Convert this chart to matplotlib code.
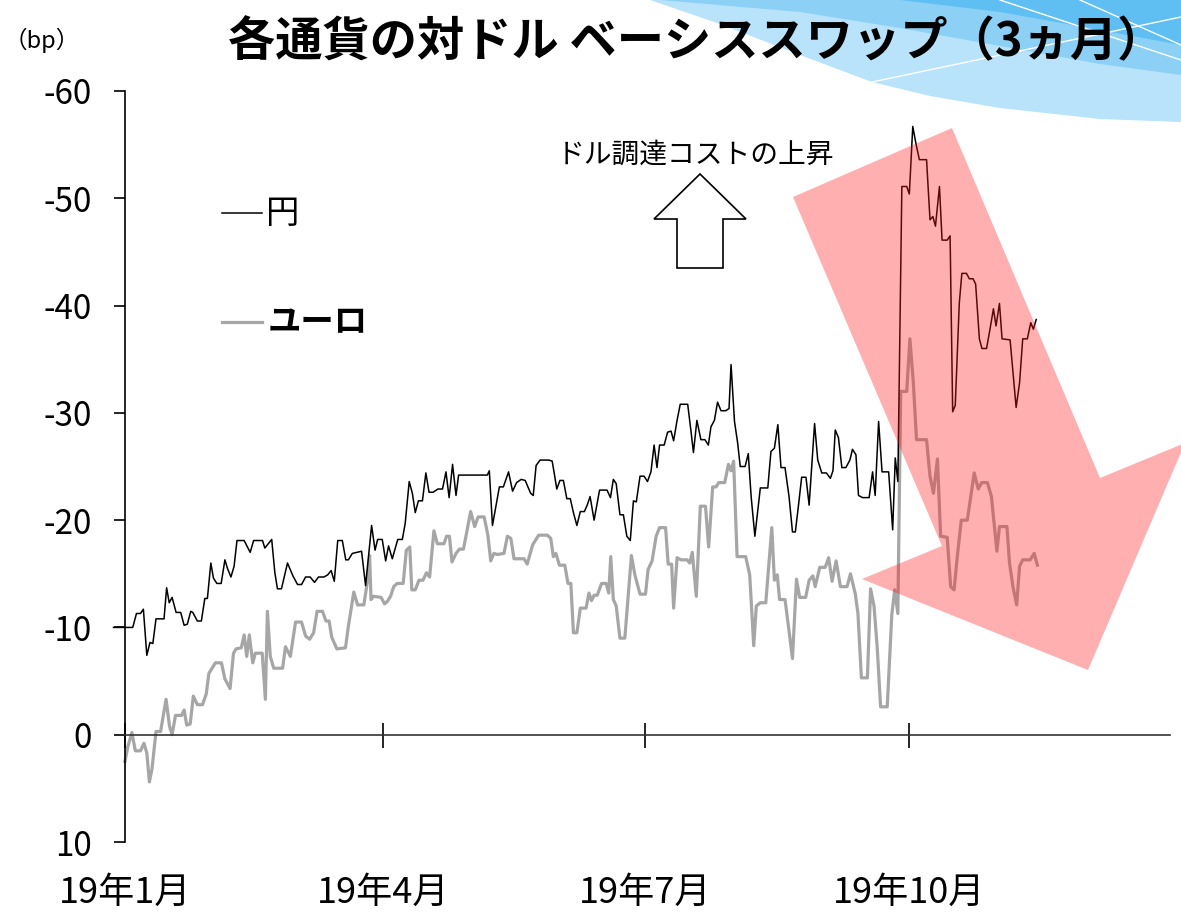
import matplotlib
matplotlib.use('Agg')
import matplotlib.pyplot as plt
from matplotlib.patches import Polygon
from matplotlib.lines import Line2D
from matplotlib.transforms import blended_transform_factory

plt.rcParams['font.family'] = ['Noto Sans CJK JP', 'DejaVu Sans']
plt.rcParams['axes.unicode_minus'] = False

# ---------------- data (x = days from 2019-01-01, y = bp) ----------------
yen_day = [-4, 2.7, 4, 5.4, 6.4, 7.6, 8.7, 9.7, 10.8, 13.6,
           14.5, 15.4, 16.4, 17.8, 19.4, 20.6, 21.7, 22.9, 23.6, 25.2,
           26.6, 27.8, 28.7, 29.9, 30.8, 32.0, 33.5, 34.8, 35.7, 36.9,
           38.0, 39.0, 41.5, 43.6, 44.8, 47.9, 48.7, 51.1, 52.2, 53.1,
           54.5, 56.6, 58.5, 60.1, 61.5, 62.9, 64.5, 66.0, 67.4, 69.3,
           70.6, 71.8, 72.9, 74.1, 75.7, 76.9, 77.8, 79.2, 80.8, 82.4,
           83.8, 84.8, 85.9, 87.1, 88.0, 89.6, 90.8, 91.8, 93.1, 95.0,
           96.6, 97.6, 99.0, 100.1, 101.1, 102.2, 103.6, 104.8, 105.9, 107.3,
           109.0, 110.6, 111.8, 112.9, 114.1, 115.3, 116.2, 126.2, 126.9, 128.0,
           129.2, 130.4, 131.8, 133.6, 135.0, 136.4, 138.0, 139.4, 141.3, 142.2,
           143.2, 144.6, 147.6, 148.8, 149.5, 150.4, 151.5, 152.7, 153.9, 155.1,
           156.2, 157.4, 158.6, 160.0, 161.0, 162.0, 163.4, 165.3, 167.9, 169.1,
           170.1, 171.1, 172.4, 173.6, 174.8, 176.0, 177.1, 178.1, 179.4, 180.8,
           182.0, 183.2, 184.3, 185.3, 186.2, 187.8, 189.0, 190.2, 191.1, 192.3,
           193.4, 196.0, 197.1, 198.0, 199.2, 200.6, 202.0, 203.2, 204.1, 205.3,
           206.4, 207.6, 209.2, 210.4, 211.1, 212.3, 213.4, 214.3, 216.0, 217.1,
           218.1, 219.4, 221.3, 223.9, 225.0, 226.2, 227.4, 228.5, 229.9, 231.3,
           232.5, 233.5, 234.6, 235.7, 237.2, 238.3, 240.2, 241.3, 242.7, 244.3,
           245.7, 246.6, 247.4, 248.5, 249.7, 251.1, 252.5, 253.4, 254.6, 255.5,
           256.9, 259.2, 260.4, 261.3, 262.5, 263.7, 266.0, 267.4, 268.3, 269.2,
           270.6, 272.3, 273.2, 274.4, 275.5, 276.7, 279.2, 280.4, 281.4, 282.3,
           283.7, 284.6, 286.4, 287.4, 288.3, 289.2, 290.6, 291.5, 293.1, 294.1,
           295.4, 296.3, 297.6, 298.5, 300.1, 301.3, 302.5, 303.4, 304.6, 305.5,
           308.3, 310.4, 311.6, 312.7, 314.3, 315.5, 316.4, 317.4]
yen_bp = [-10.0, -10.0, -11.3, -11.3, -11.7, -7.4, -8.6, -8.5, -10.8, -10.8,
          -13.7, -12.3, -12.8, -11.4, -11.4, -10.2, -10.3, -11.5, -11.4, -10.6,
          -10.6, -12.7, -12.7, -16.0, -14.6, -14.1, -14.1, -16.3, -15.5, -14.7,
          -15.7, -18.1, -18.1, -17.0, -18.1, -18.1, -17.4, -18.2, -15.1, -13.6,
          -13.6, -16.0, -14.8, -14.0, -14.0, -14.7, -14.7, -14.2, -14.7, -14.7,
          -14.9, -15.3, -14.3, -18.1, -18.1, -16.3, -16.3, -16.9, -17.0, -17.1,
          -13.9, -16.6, -19.5, -17.2, -18.2, -18.2, -16.2, -17.6, -16.4, -18.2,
          -18.2, -19.7, -23.6, -22.5, -20.7, -21.8, -21.8, -24.4, -22.6, -22.6,
          -22.9, -22.9, -24.5, -22.1, -25.2, -22.3, -24.2, -24.2, -24.6, -19.5,
          -21.3, -23.1, -23.1, -24.5, -22.7, -23.5, -23.8, -23.7, -22.5, -22.3,
          -25.1, -25.6, -25.6, -25.5, -24.4, -22.9, -23.7, -23.7, -22.0, -22.0,
          -20.7, -19.5, -20.8, -20.8, -21.4, -22.2, -20.0, -22.8, -22.8, -22.1,
          -23.8, -23.4, -20.5, -20.5, -18.5, -18.1, -21.8, -21.7, -24.1, -24.1,
          -23.6, -24.5, -27.0, -24.9, -27.0, -27.0, -28.2, -28.3, -27.4, -29.3,
          -30.8, -30.8, -28.4, -26.3, -29.3, -27.5, -27.5, -27.0, -28.7, -29.3,
          -31.0, -30.2, -30.2, -30.4, -34.5, -29.2, -27.2, -25.0, -25.0, -26.2,
          -22.2, -18.5, -23.0, -23.0, -26.4, -26.7, -28.9, -24.9, -24.9, -22.2,
          -18.9, -18.9, -21.4, -24.0, -24.0, -21.4, -29.0, -25.6, -24.4, -24.4,
          -23.9, -24.6, -28.4, -27.7, -24.9, -24.9, -25.6, -26.6, -26.1, -22.3,
          -22.1, -22.1, -24.5, -22.3, -29.2, -24.5, -24.5, -19.1, -25.8, -23.6,
          -51.1, -51.1, -50.4, -56.7, -55.1, -53.6, -53.6, -48.0, -48.3, -47.4,
          -51.1, -46.1, -46.1, -46.5, -30.1, -30.7, -40.2, -43.0, -43.0, -42.5,
          -42.5, -42.0, -36.9, -36.0, -36.0, -37.8, -39.7, -38.1, -40.2, -36.9,
          -36.8, -30.5, -32.8, -36.9, -36.9, -38.4, -37.8, -38.7]

eur_day = [0, 1, 2.4, 3.6, 5.4, 6.6, 7.6, 8.5, 9.4, 10.8,
           12.4, 14.3, 15.5, 16.4, 17.6, 19.7, 20.6, 21.5, 22.7, 23.8,
           25.2, 27.0, 28.3, 29.2, 30.1, 31.5, 33.6, 34.8, 36.6, 37.8,
           38.7, 40.5, 41.5, 42.4, 43.3, 44.5, 45.4, 47.8, 48.9, 49.6,
           50.6, 51.8, 54.9, 55.9, 57.6, 59.4, 61.5, 62.9, 64.3, 65.7,
           66.9, 68.8, 70.0, 71.1, 72.0, 73.8, 76.8, 77.8, 79.7, 81.0,
           83.2, 84.5, 85.2, 85.7, 86.6, 89.2, 90.4, 91.3, 92.5, 93.6,
           94.8, 96.9, 98.0, 99.2, 99.9, 101.1, 102.4, 103.8, 105.0, 106.1,
           107.6, 108.8, 111.1, 112.0, 113.0, 113.9, 115.3, 116.5, 117.9, 120.4,
           121.8, 123.0, 125.1, 126.4, 127.4, 128.5, 129.7, 132.0, 133.2, 134.4,
           135.5, 139.0, 140.1, 142.0, 144.1, 147.1, 148.3, 149.2, 150.1, 151.3,
           153.2, 154.3, 155.3, 156.2, 157.4, 158.6, 160.6, 161.6, 162.5, 163.4,
           164.5, 166.0, 167.6, 168.5, 169.2, 170.1, 171.1, 172.4, 174.1, 176.4,
           177.6, 179.4, 181.3, 182.2, 183.6, 185.0, 186.2, 188.3, 189.2, 190.4,
           191.1, 192.3, 193.7, 195.8, 196.7, 197.6, 199.0, 200.4, 202.2, 203.3,
           204.7, 205.9, 206.8, 208.9, 210.2, 211.1, 212.0, 213.2, 216.2, 217.6,
           219.0, 219.9, 221.3, 223.2, 224.3, 225.3, 226.2, 227.2, 228.0, 229.9,
           231.1, 232.5, 233.9, 235.0, 237.1, 238.3, 239.6, 240.4, 242.0, 243.9,
           245.1, 246.3, 247.7, 249.2, 251.5, 252.7, 254.4, 255.3, 256.5, 258.6,
           259.7, 260.9, 262.0, 263.2, 265.5, 267.1, 268.1, 269.2, 270.2, 272.3,
           273.4, 274.6, 275.7, 279.2, 280.4, 281.6, 283.0, 284.1, 286.4, 287.6,
           288.8, 289.9, 291.3, 293.4, 295.8, 297.2, 298.4, 300.4, 301.8, 303.7,
           304.6, 307.2, 308.1, 309.3, 310.6, 311.6, 312.7, 315.3, 316.7, 317.8]
eur_bp = [2.5, 1.1, -0.2, 1.5, 1.5, 0.8, 1.7, 4.4, 3.2, -0.3,
          -0.3, -3.3, -0.8, 0.0, -1.8, -1.8, -2.3, -0.9, -1.0, -3.6,
          -2.8, -2.8, -3.8, -5.7, -6.1, -6.7, -6.7, -5.2, -4.3, -7.6,
          -8.0, -8.1, -9.3, -7.3, -9.3, -6.7, -7.6, -7.6, -3.3, -11.5,
          -7.3, -6.2, -6.2, -8.2, -7.3, -10.5, -10.5, -9.2, -8.9, -9.5,
          -11.5, -11.5, -10.6, -10.6, -9.1, -8.0, -8.1, -10.1, -13.3, -12.1,
          -12.1, -14.4, -16.7, -12.6, -12.9, -12.8, -12.2, -12.4, -12.9, -13.8,
          -14.1, -14.1, -17.2, -17.5, -13.5, -13.5, -14.4, -14.4, -15.1, -14.7,
          -19.0, -17.8, -17.8, -18.5, -18.5, -16.1, -16.9, -17.3, -17.3, -20.8,
          -19.4, -20.3, -20.3, -18.6, -16.2, -16.9, -16.8, -16.9, -18.5, -18.3,
          -16.4, -16.4, -15.9, -17.7, -18.6, -18.6, -18.3, -16.6, -16.9, -15.8,
          -15.8, -14.1, -14.1, -9.5, -9.5, -11.8, -11.8, -13.2, -12.5, -13.0,
          -13.0, -14.1, -14.1, -13.2, -16.6, -12.6, -12.0, -9.0, -9.0, -16.7,
          -14.9, -13.1, -13.1, -15.4, -16.2, -18.5, -19.3, -19.3, -15.9, -15.9,
          -11.8, -16.5, -16.3, -16.3, -16.0, -17.0, -12.9, -21.3, -21.3, -17.5,
          -23.1, -23.1, -23.5, -23.5, -25.2, -24.6, -25.5, -16.6, -16.6, -14.9,
          -8.3, -12.0, -12.3, -12.3, -16.0, -19.3, -14.4, -14.9, -12.6, -12.6,
          -10.1, -7.1, -14.5, -12.8, -12.8, -14.4, -14.8, -13.8, -15.6, -15.6,
          -16.5, -14.3, -16.2, -13.8, -13.8, -15.0, -13.1, -11.3, -5.3, -5.3,
          -13.6, -12.0, -8.2, -2.6, -2.6, -11.2, -13.5, -11.3, -32.0, -32.0,
          -36.9, -32.8, -27.5, -27.5, -24.1, -22.5, -25.7, -18.5, -18.4, -13.8,
          -13.5, -16.6, -20.0, -20.0, -24.4, -22.9, -23.5, -23.5, -22.2, -17.1,
          -19.4, -19.4, -16.0, -13.8, -12.1, -15.7, -16.3, -16.3, -16.9, -15.8]

series_names = ['円', 'ユーロ']
y_ticks = [-60, -50, -40, -30, -20, -10, 0, 10]
x_ticks = [0, 90, 181, 273]
x_labels = ['19年1月', '19年4月', '19年7月', '19年10月']
title = '各通貨の対ドル ベーシススワップ（3ヵ月）'
unit = '（bp）'
note = 'ドル調達コストの上昇'

# ---------------- figure ----------------
W, H = 1181, 916
fig = plt.figure(figsize=(W / 100, H / 100), dpi=100)


def fx(x):
    return x / W


def fy(y):
    return 1 - y / H


def fpts(pts):
    return [(fx(a), fy(b)) for a, b in pts]


# decorative blue swoosh in the top-right corner
fig.add_artist(Polygon(fpts([(650, 0), (1181, 0), (1181, 122), (1100, 119), (1000, 108),
                             (930, 96), (872, 82), (800, 55), (720, 24)]),
                       closed=True, transform=fig.transFigure, facecolor='#B9E3FA',
                       edgecolor='none', zorder=-5))
fig.add_artist(Polygon(fpts([(660, 0), (1181, 0), (1181, 75), (1100, 64), (1000, 46),
                             (900, 28), (800, 12)]),
                       closed=True, transform=fig.transFigure, facecolor='#8DD0F6',
                       edgecolor='none', zorder=-4))
fig.add_artist(Polygon(fpts([(900, 0), (1181, 0), (1181, 45), (1100, 30), (1000, 12)]),
                       closed=True, transform=fig.transFigure, facecolor='#5FBFF3',
                       edgecolor='none', zorder=-3))
for seg in ([(872, 82), (1181, 17)], [(1000, 0), (1181, 60)], [(1080, 0), (1181, 45)]):
    fig.add_artist(Line2D([fx(p[0]) for p in seg], [fy(p[1]) for p in seg],
                          transform=fig.transFigure, color='white', lw=1.0, zorder=-2))

ax = fig.add_axes([fx(125), fy(842), fx(1170) - fx(125), fy(91) - fy(842)])
ax.patch.set_alpha(0)

ax.plot(eur_day, eur_bp, color='#A6A6A6', lw=2.3, clip_on=False, zorder=2)
ax.plot(yen_day, yen_bp, color='black', lw=1.1, clip_on=False, zorder=3)

ax.set_xlim(0, 364)
ax.set_ylim(10, -60)
ax.set_yticks(y_ticks)
ax.set_yticklabels([str(v) for v in y_ticks], fontsize=24)
ax.set_xticks(x_ticks)
ax.tick_params(axis='y', length=8, width=1.2, pad=16, colors='black')
ax.tick_params(axis='x', direction='inout', length=18, width=1.2, labelbottom=False)

ax.spines['top'].set_visible(False)
ax.spines['right'].set_visible(False)
ax.spines['bottom'].set_position(('data', 0))
ax.spines['bottom'].set_linewidth(1.2)
ax.spines['bottom'].set_color('#333333')
ax.spines['left'].set_linewidth(1.2)

trans = blended_transform_factory(ax.transData, ax.transAxes)
for xv, lab in zip(x_ticks, x_labels):
    ax.text(xv, -0.068, lab, transform=trans, ha='center', va='center', fontsize=26)

# legend drawn by hand
fig.add_artist(Line2D([fx(222), fx(262)], [fy(213), fy(213)], transform=fig.transFigure,
                      color='black', lw=1.1))
fig.text(fx(266), fy(214), series_names[0], ha='left', va='center', fontsize=24)
fig.add_artist(Line2D([fx(222), fx(262)], [fy(322), fy(322)], transform=fig.transFigure,
                      color='#A6A6A6', lw=2.3))
fig.text(fx(268), fy(323), series_names[1], ha='left', va='center', fontsize=24,
         fontweight='bold')

# titles
fig.text(fx(228), fy(42), title, ha='left', va='center', fontsize=34, fontweight='bold')
fig.text(fx(42), fy(40), unit, ha='center', va='center', fontsize=17)

# annotation: up arrow + text
fig.text(fx(695), fy(155), note, ha='center', va='center', fontsize=20)
fig.add_artist(Polygon(fpts([(700, 174), (746, 219), (723, 219), (723, 268), (677, 268),
                             (677, 219), (654, 219)]),
                       closed=True, transform=fig.transFigure, facecolor='white',
                       edgecolor='black', lw=1.2, zorder=4))

# big translucent red arrow
fig.add_artist(Polygon(fpts([(793, 197), (952, 128), (1100, 478), (1185, 443), (1088, 670),
                             (862, 579), (942, 546)]),
                       closed=True, transform=fig.transFigure, facecolor='#FF1A1A',
                       alpha=0.35, edgecolor='none', zorder=5))

fig.savefig('out.png', dpi=100)
